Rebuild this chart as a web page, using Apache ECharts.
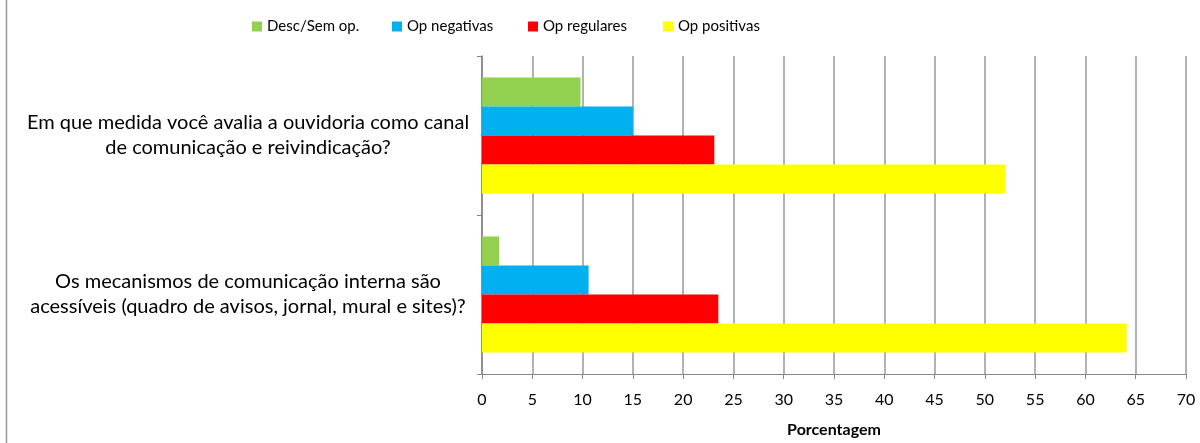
<!DOCTYPE html>
<html>
<head>
<meta charset="utf-8">
<script src="https://cdn.jsdelivr.net/npm/echarts@6/dist/echarts.min.js"></script>
<style>
  html, body { margin: 0; padding: 0; background: #fff; }
  #chart_bar { width: 1200px; height: 443px; }
</style>
</head>
<body>
<div id="chart_bar"></div>
<script>
let categories = [
    'Em que medida você avalia a ouvidoria como canal\nde comunicação e reivindicação?',
    'Os mecanismos de comunicação interna são\nacessíveis (quadro de avisos, jornal, mural e sites)?'
];
let seriesNames = ['Desc/Sem op.', 'Op negativas', 'Op regulares', 'Op positivas'];
let descSemOp = [9.8, 1.7];
let opNegativas = [15.0, 10.6];
let opRegulares = [23.1, 23.5];
let opPositivas = [52.0, 64.1];

let fontName = 'Lato, sans-serif';
let colors = ['#92D050', '#00B0F0', '#FF0000', '#FFFF00'];
let legendLeft = [247, 387, 523, 658];

let chart_bar = document.getElementById("chart_bar");
let myChart = echarts.init(chart_bar);

function makeSeries(name, data, color) {
    return {
        name: name,
        type: 'bar',
        data: data,
        itemStyle: { color: color },
        barGap: '0%',
        barCategoryGap: '27%'
    };
}

// one legend per item so they sit evenly spaced like the original
let legends = seriesNames.map(function (name, i) {
    return {
        top: 14,
        left: legendLeft[i],
        itemWidth: 10,
        itemHeight: 10,
        itemGap: 0,
        icon: 'rect',
        textStyle: { fontSize: 15, color: '#000', fontFamily: fontName },
        data: [name]
    };
});

let option = {
    animation: false,
    textStyle: { fontFamily: fontName },
    legend: legends,
    grid: {
        left: 482,
        right: 14,
        top: 56,
        bottom: 68
    },
    xAxis: {
        type: 'value',
        min: 0,
        max: 70,
        interval: 5,
        name: 'Porcentagem',
        nameLocation: 'middle',
        nameGap: 48,
        nameTextStyle: { fontSize: 16, fontWeight: 'bold', color: '#000', fontFamily: fontName },
        axisLine: { show: true, lineStyle: { color: '#868686' } },
        axisTick: { show: true, length: 5, lineStyle: { color: '#868686' } },
        axisLabel: { fontSize: 16, color: '#000', margin: 18, fontFamily: fontName },
        splitLine: { show: true, lineStyle: { color: '#999', width: 1.5 } }
    },
    yAxis: {
        type: 'category',
        inverse: true,
        data: categories,
        axisLine: { show: true, lineStyle: { color: '#868686', width: 1.5 } },
        axisTick: { show: true, length: 5, lineStyle: { color: '#868686' } },
        axisLabel: {
            fontSize: 20,
            color: '#000',
            align: 'center',
            margin: 234,
            lineHeight: 25,
            fontFamily: fontName
        }
    },
    graphic: [{
        type: 'line',
        shape: { x1: 6.5, y1: 0, x2: 6.5, y2: 443 },
        style: { stroke: '#999', lineWidth: 1.5 }
    }],
    series: [
        makeSeries(seriesNames[0], descSemOp, colors[0]),
        makeSeries(seriesNames[1], opNegativas, colors[1]),
        makeSeries(seriesNames[2], opRegulares, colors[2]),
        makeSeries(seriesNames[3], opPositivas, colors[3])
    ]
};

myChart.setOption(option);
</script>
</body>
</html>
